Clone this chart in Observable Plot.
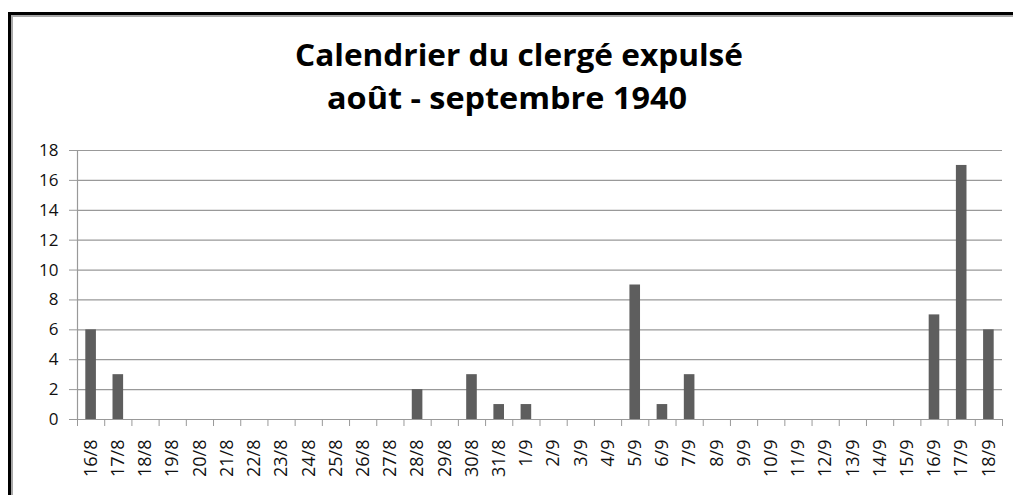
<!DOCTYPE html>
<html><head><meta charset="utf-8">
<script src="https://cdn.jsdelivr.net/npm/d3@7"></script>
<script src="https://cdn.jsdelivr.net/npm/@observablehq/plot@0.6"></script>
<style>
html,body{margin:0;padding:0;background:#fff;}
body{width:1013px;height:495px;overflow:hidden;position:relative;font-family:"Open Sans",sans-serif;}
#frame{position:absolute;left:8px;top:12px;width:1040px;height:540px;border-left:3px solid #000;border-top:3px solid #000;box-shadow:inset 2px 2px 0 #a8a8a8;}
.tl{position:absolute;white-space:nowrap;font-weight:bold;font-size:31px;line-height:42px;color:#000;transform-origin:0 0;}
#chart{position:absolute;left:0;top:130px;}
#chart [aria-label="y-axis tick label"], #chart [aria-label="y-axis tick label"] text{font-size:17px !important;font-family:"Open Sans",sans-serif !important;}
#chart [aria-label="x-axis tick label"], #chart [aria-label="x-axis tick label"] text{font-size:18px !important;font-family:"Open Sans",sans-serif !important;}
</style>
</head><body>
<div id="frame"></div>
<div class="tl" id="t1">Calendrier du clergé expulsé</div>
<div class="tl" id="t2">août - septembre 1940</div>
<div id="chart"></div>
<script>
const dates = ["16/8","17/8","18/8","19/8","20/8","21/8","22/8","23/8","24/8","25/8","26/8","27/8","28/8","29/8","30/8","31/8",
  "1/9","2/9","3/9","4/9","5/9","6/9","7/9","8/9","9/9","10/9","11/9","12/9","13/9","14/9","15/9","16/9","17/9","18/9"];
const counts = [6,3,0,0,0,0,0,0,0,0,0,0,2,0,3,1,
  1,0,0,0,9,1,3,0,0,0,0,0,0,0,0,7,17,6];
const yTicks = [0,2,4,6,8,10,12,14,16,18];

function fit(id, left, right, top){
  const el = document.getElementById(id);
  const w = el.getBoundingClientRect().width;
  const k = (right-left)/w;
  el.style.left = left+"px";
  el.style.top = top+"px";
  el.style.transform = `scaleX(${k})`;
}
fit("t1", 295, 743, 33);
fit("t2", 327, 687, 76);

const data = dates.map((d,i)=>({date:d, i, n:counts[i]}));
const n = dates.length;
const grid = "#999999";
const chart = Plot.plot({
  width:1013, height:365,
  marginLeft:77, marginRight:11, marginTop:20, marginBottom:76,
  style:{fontFamily:"Open Sans, sans-serif", fontSize:"17px", color:"#111", background:"transparent"},
  x:{domain:[0,n]},
  y:{domain:[0,18]},
  marks:[
    Plot.ruleY(yTicks,{stroke:grid, strokeWidth:1.2}),
    Plot.ruleX([0],{stroke:grid, strokeWidth:1.2}),
    Plot.rectY(data,{x1:"i", x2:d=>d.i+1, y1:0, y2:"n", insetLeft:8.3, insetRight:8.3, fill:"#5e5e5e"}),
    Plot.axisY({ticks:yTicks, tickSize:8, tickPadding:11, stroke:grid, fontSize:17, label:null}),
    Plot.axisX({ticks:d3.range(n+1), tickFormat:()=>"", tickSize:7, stroke:grid, label:null}),
    Plot.axisX({ticks:d3.range(n).map(i=>i+0.5), tickFormat:v=>dates[Math.floor(v)], tickRotate:-90, tickSize:0, tickPadding:20, fontSize:18, label:null})
  ]
});
document.getElementById("chart").appendChild(chart);
</script>
</body></html>
